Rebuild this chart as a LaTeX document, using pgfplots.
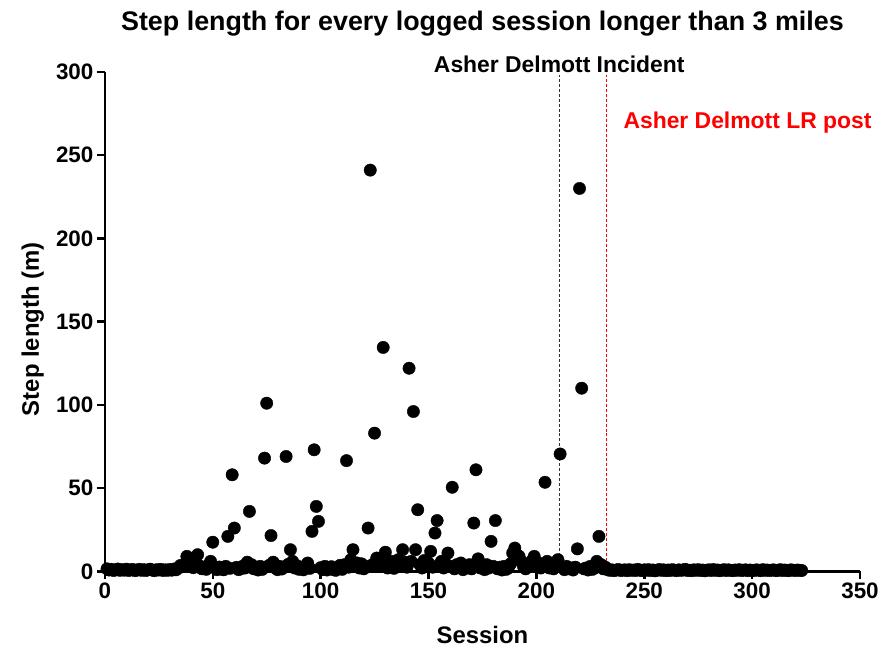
\documentclass[border=0pt]{standalone}
\usepackage{fontspec}
\setmainfont{Liberation Sans}
\usepackage{pgfplots}
\pgfplotsset{compat=1.18}
\definecolor{incidentgray}{RGB}{50,50,50}
\definecolor{postred}{RGB}{255,0,0}
\begin{document}
\begin{tikzpicture}
\begin{axis}[
  scale only axis, width=756bp, height=500bp,
  xmin=0, xmax=350, ymin=0, ymax=300,
  axis x line*=bottom, axis y line*=left,
  axis line style={line width=2.5bp, black},
  xtick={0,50,...,350}, ytick={0,50,...,300},
  minor tick num=0,
  tick align=outside, major tick length=8bp,
  every tick/.style={black, line width=2.5bp},
  /pgf/number format/assume math mode=true,
  tick label style={font=\bfseries\fontsize{22.5}{22.5}\selectfont},
  title={Step length for every logged session longer than 3 miles},
  title style={at={(axis description cs:0.5,1.07)}, anchor=base, inner sep=0pt,
    font=\bfseries\fontsize{27}{27}\selectfont},
  xlabel={Session},
  xlabel style={at={(axis description cs:0.5,-0.145)}, anchor=base, inner sep=0pt,
    font=\bfseries\fontsize{24}{24}\selectfont},
  ylabel={Step length (m)},
  ylabel style={at={(axis description cs:-0.0873,0.485)}, anchor=base, inner sep=0pt,
    font=\bfseries\fontsize{24}{24}\selectfont},
  clip=false,
]
% reference dates
\addplot[incidentgray, line width=1.4bp, dash pattern=on 3bp off 2bp] coordinates {(210.6,0) (210.6,298)};
\addplot[postred, line width=1.3bp, dash pattern=on 3bp off 2bp] coordinates {(232.6,0) (232.6,298)};
\node[anchor=base, inner sep=0pt, font=\bfseries\fontsize{23}{23}\selectfont]
  at (axis cs:210.6,299.5) {Asher Delmott Incident};
\node[anchor=base west, inner sep=0pt, text=postred, font=\bfseries\fontsize{23}{23}\selectfont]
  at (axis cs:240.3,266) {Asher Delmott LR post};
% one point per session
\addplot[only marks, mark=*, mark size=6.2bp, black, mark options={fill=black}] coordinates {
(1,1.5) (2,0.8) (3,1.2) (4,0.5) (5,0.9) (6,1.4) (7,0.6) (8,1.0) (9,0.7) (10,1.3)
(11,0.5) (12,0.9) (13,1.1) (14,0.4) (15,0.8) (16,1.2) (17,0.6) (18,1.0) (19,0.5) (20,0.9)
(21,1.3) (22,0.7) (23,0.4) (24,1.0) (25,0.8) (26,1.2) (27,0.5) (28,0.9) (29,0.6) (30,1.1)
(31,0.7) (32,1.4) (33,0.9) (34,2.0) (35,3.5) (36,2.8) (37,4.5) (38,9.0) (39,3.0) (40,5.0)
(41,2.2) (42,4.0) (43,10.0) (44,3.2) (45,1.5) (46,2.5) (47,1.2) (48,3.8) (49,6.0) (50,17.5)
(51,2.0) (52,1.0) (53,2.6) (54,1.4) (55,0.9) (56,3.0) (57,21.0) (58,1.8) (59,58.0) (60,26.0)
(61,2.4) (62,1.0) (63,1.6) (64,3.2) (65,2.0) (66,5.5) (67,36.0) (68,4.0) (69,1.5) (70,2.2)
(71,0.8) (72,3.0) (73,1.2) (74,68.0) (75,101.0) (76,3.5) (77,21.5) (78,5.5) (79,2.0) (80,1.0)
(81,3.0) (82,1.4) (83,2.6) (84,69.0) (85,4.2) (86,13.0) (87,6.0) (88,2.0) (89,3.4) (90,1.2)
(91,2.5) (92,0.9) (93,3.0) (94,5.0) (95,1.8) (96,24.0) (97,73.0) (98,39.0) (99,30.0) (100,2.2)
(101,1.0) (102,3.0) (103,0.8) (104,1.6) (105,2.8) (106,1.0) (107,0.6) (108,2.0) (109,3.6) (110,1.2)
(111,4.0) (112,66.5) (113,2.5) (114,7.0) (115,13.0) (116,3.0) (117,5.0) (118,2.0) (119,4.5) (120,1.5)
(121,3.0) (122,26.0) (123,241.0) (124,4.0) (125,83.0) (126,8.0) (127,3.5) (128,5.0) (129,134.5) (130,11.5)
(131,2.0) (132,4.5) (133,6.0) (134,1.8) (135,3.0) (136,7.0) (137,4.0) (138,13.0) (139,5.5) (140,2.5)
(141,122.0) (142,6.0) (143,96.0) (144,13.0) (145,37.0) (146,4.0) (147,2.0) (148,6.5) (149,3.0) (150,5.0)
(151,12.0) (152,2.5) (153,23.0) (154,30.5) (155,4.0) (156,6.0) (157,2.0) (158,4.5) (159,11.0) (160,3.0)
(161,50.5) (162,1.5) (163,4.0) (164,2.5) (165,5.0) (166,1.0) (167,3.0) (168,2.0) (169,4.0) (170,1.5)
(171,29.0) (172,61.0) (173,7.5) (174,2.0) (175,3.5) (176,1.0) (177,4.0) (178,2.0) (179,18.0) (180,3.0)
(181,30.5) (182,1.5) (183,2.5) (184,0.8) (185,3.0) (186,1.2) (187,2.0) (188,4.5) (189,11.0) (190,14.0)
(191,10.0) (192,9.0) (193,6.0) (194,3.0) (195,1.5) (196,2.5) (197,4.0) (198,6.5) (199,9.0) (200,3.0)
(201,5.0) (202,2.0) (203,4.0) (204,53.5) (205,6.0) (206,2.0) (207,3.5) (208,1.5) (209,4.0) (210,7.0)
(211,70.5) (212,2.5) (213,1.0) (214,3.0) (215,1.5) (216,2.0) (217,0.8) (218,2.5) (219,13.5) (220,230.0)
(221,110.0) (222,1.5) (223,2.0) (224,0.8) (225,3.0) (226,1.2) (227,2.0) (228,6.0) (229,21.0) (230,4.0)
(231,1.5) (232,2.5) (233,1.0) (234,0.6) (235,0.9) (236,0.4) (237,0.8) (238,1.1) (239,0.5) (240,0.7)
(241,0.9) (242,0.4) (243,1.0) (244,0.6) (245,0.8) (246,0.5) (247,1.2) (248,0.7) (249,0.4) (250,0.9)
(251,0.6) (252,1.0) (253,0.5) (254,0.8) (255,0.3) (256,0.7) (257,1.1) (258,0.6) (259,0.9) (260,0.4)
(261,0.8) (262,0.5) (263,1.0) (264,0.7) (265,0.4) (266,0.9) (267,0.6) (268,0.8) (269,1.2) (270,0.5)
(271,0.7) (272,0.4) (273,0.9) (274,0.6) (275,1.0) (276,0.5) (277,0.8) (278,0.3) (279,0.7) (280,0.9)
(281,0.5) (282,1.1) (283,0.6) (284,0.8) (285,0.4) (286,0.7) (287,1.0) (288,0.5) (289,0.9) (290,0.6)
(291,0.4) (292,0.8) (293,0.6) (294,1.0) (295,0.5) (296,0.7) (297,0.9) (298,0.4) (299,0.8) (300,0.6)
(301,0.5) (302,0.9) (303,0.7) (304,0.4) (305,1.0) (306,0.6) (307,0.8) (308,0.5) (309,0.7) (310,0.9)
(311,0.4) (312,0.6) (313,1.0) (314,0.5) (315,0.8) (316,0.6) (317,0.4) (318,0.9) (319,0.7) (320,0.5)
(321,0.8) (322,0.6) (323,0.5)
};
\end{axis}
\useasboundingbox (-105bp,-77bp) rectangle (777bp,572bp);
\end{tikzpicture}
\end{document}
